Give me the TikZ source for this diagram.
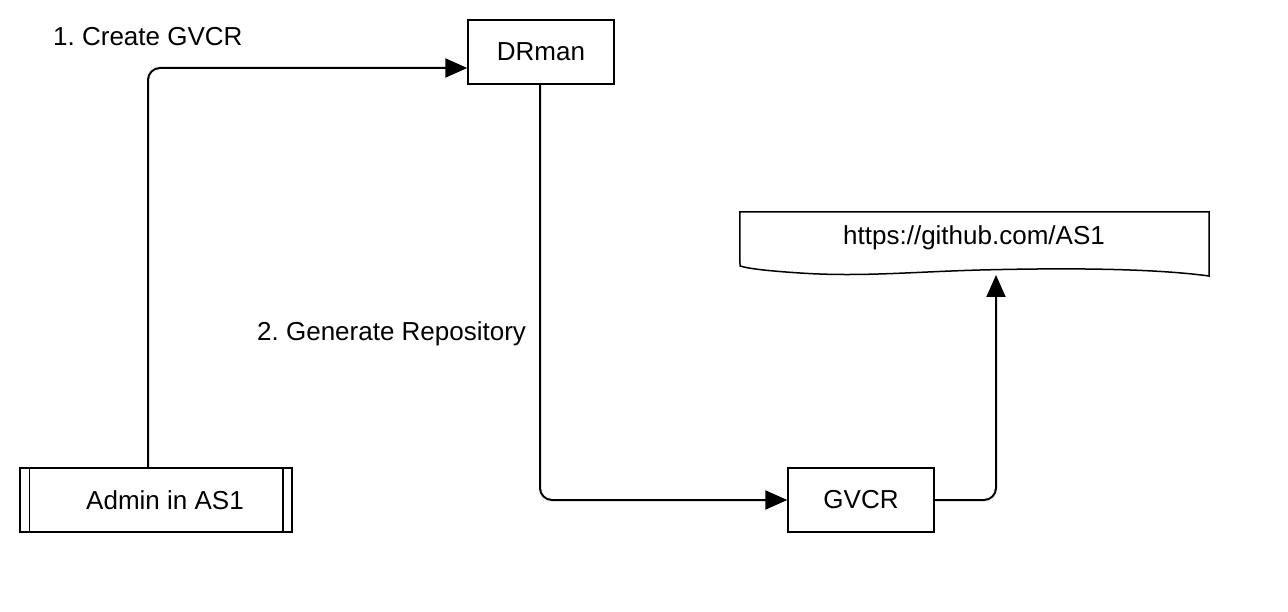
\documentclass[tikz,border=0pt]{standalone}
\usepackage{fontspec}
\setmainfont{Liberation Sans}
\usetikzlibrary{arrows.meta, positioning}
\frenchspacing

\begin{document}
\begin{tikzpicture}[
    x=1pt, y=-1pt,
    font=\fontsize{26}{30}\selectfont,
    box/.style={rectangle, draw=black, line width=1.5pt, inner sep=0pt, minimum height=64pt, minimum width=146pt, align=center},
    link/.style={-{Triangle[length=22pt, width=19pt]}, line width=2pt, rounded corners=12pt}
]
    \useasboundingbox (0,0) rectangle (1288,612);

    % DRman
    \node[box] (drman) at (541,52) {DRman};

    % Admin (subroutine box)
    \node[box, minimum width=272pt] (admin) at (156,500) {\hspace{18pt}Admin in AS1};
    \draw[line width=1.5pt] ([xshift=10pt]admin.north west) -- ([xshift=10pt]admin.south west);
    \draw[line width=1.5pt] ([xshift=-10pt]admin.north east) -- ([xshift=-10pt]admin.south east);

    % GVCR
    \node[box] (gvcr) at (861,500) {GVCR};

    % Repository document
    \node[minimum width=469pt, minimum height=64pt, inner sep=0pt] (repo) at (974.5,244) {};
    \node at (974,238) (repotext) {https://github.com/AS1};
    \draw[line width=1.5pt] (repo.north west) -- (repo.north east) -- (1209,276)
        .. controls (1150,268) and (1060,268) .. (980,270)
        .. controls (910,272) and (860,277) .. (800,273)
        .. controls (770,271) and (750,269) .. (740,266) -- cycle;
    \coordinate (repoin) at (996,275);

    % Connections
    \draw[link] (admin.north -| 148,0) |- (drman.west |- 0,68);
    \draw[link] (drman.south -| 540,0) |- (gvcr.west);
    \draw[link] (gvcr.east) -| (repoin);

    % Labels
    \node[anchor=west, inner sep=0pt] (step1) at (53,37) {1. Create GVCR};
    \node[anchor=west, inner sep=0pt] (step2) at (257,334) {2. Generate Repository};
\end{tikzpicture}
\end{document}
